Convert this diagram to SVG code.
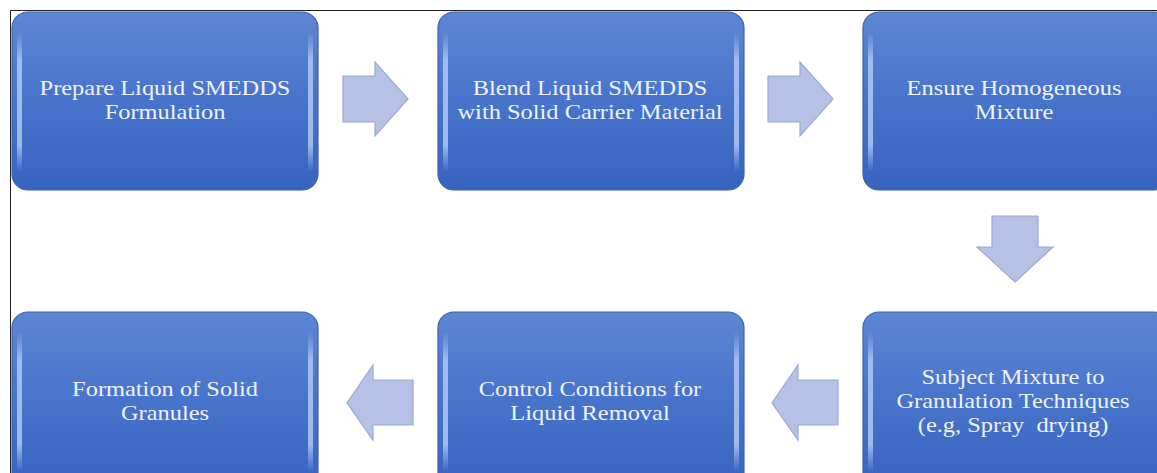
<svg xmlns="http://www.w3.org/2000/svg" width="1157" height="473" viewBox="0 0 1157 473">
<defs>
<linearGradient id="bg" x1="0" y1="0" x2="0" y2="1">
<stop offset="0" stop-color="#5d86d3"/>
<stop offset="0.45" stop-color="#4a75cc"/>
<stop offset="1" stop-color="#3763c0"/>
</linearGradient>
<linearGradient id="side" x1="0" y1="0" x2="0" y2="1">
<stop offset="0" stop-color="#a9c3f2" stop-opacity="0"/>
<stop offset="0.2" stop-color="#a9c3f2" stop-opacity="0.9"/>
<stop offset="0.8" stop-color="#a9c3f2" stop-opacity="0.9"/>
<stop offset="1" stop-color="#a9c3f2" stop-opacity="0"/>
</linearGradient>
<g id="box">
<rect x="0" y="0" width="306" height="178" rx="16" fill="url(#bg)" stroke="#3a62b0" stroke-width="1.2"/>
<rect x="5" y="20" width="5" height="140" rx="2.5" fill="url(#side)"/>
<rect x="296" y="20" width="5" height="140" rx="2.5" fill="url(#side)"/>
</g>
</defs>
<style>
text{font-family:'Liberation Serif',serif;font-size:22px;fill:#eef2fa;text-anchor:middle}
.arr{fill:#b5c1e5;stroke:#9ba9d6;stroke-width:1.2;stroke-linejoin:miter}
.frame{stroke:#222;stroke-width:1;fill:none}
</style>
<rect width="1157" height="473" fill="#ffffff"/>
<path class="frame" d="M10.5 473 V10.5 H1157"/>
<g id="n1"><use href="#box" x="12" y="12"/>
<g transform="translate(165 0) scale(1.11 1)">
<text x="0" y="95">Prepare Liquid SMEDDS</text>
<text x="0" y="119">Formulation</text></g></g>
<g id="n2"><use href="#box" x="438" y="12"/>
<g transform="translate(590 0) scale(1.11 1)">
<text x="0" y="95">Blend Liquid SMEDDS</text>
<text x="0" y="119">with Solid Carrier Material</text></g></g>
<g id="n3"><use href="#box" x="863" y="12"/>
<g transform="translate(1014 0) scale(1.11 1)">
<text x="0" y="95">Ensure Homogeneous</text>
<text x="0" y="119">Mixture</text></g></g>
<g id="n4"><use href="#box" x="863" y="312"/>
<g transform="translate(1013 0) scale(1.11 1)">
<text x="0" y="384">Subject Mixture to</text>
<text x="0" y="408">Granulation Techniques</text>
<text x="0" y="432" xml:space="preserve">(e.g, Spray  drying)</text></g></g>
<g id="n5"><use href="#box" x="438" y="312"/>
<g transform="translate(590 0) scale(1.11 1)">
<text x="0" y="396">Control Conditions for</text>
<text x="0" y="420">Liquid Removal</text></g></g>
<g id="n6"><use href="#box" x="12" y="312"/>
<g transform="translate(165 0) scale(1.11 1)">
<text x="0" y="396">Formation of Solid</text>
<text x="0" y="420">Granules</text></g></g>
<g id="connectors">
<polygon class="arr" points="343,76 375,76 375,62 408,99 375,136 375,122 343,122"/>
<polygon class="arr" points="768,76 800,76 800,62 833,99 800,136 800,122 768,122"/>
<polygon class="arr" points="992,216 1038,216 1038,247 1053,247 1015,282 977,247 992,247"/>
<polygon class="arr" points="413,380 373,380 373,365 347,403 373,440 373,425 413,425"/>
<polygon class="arr" points="838,380 798,380 798,365 772,403 798,440 798,425 838,425"/>
</g>
</svg>
